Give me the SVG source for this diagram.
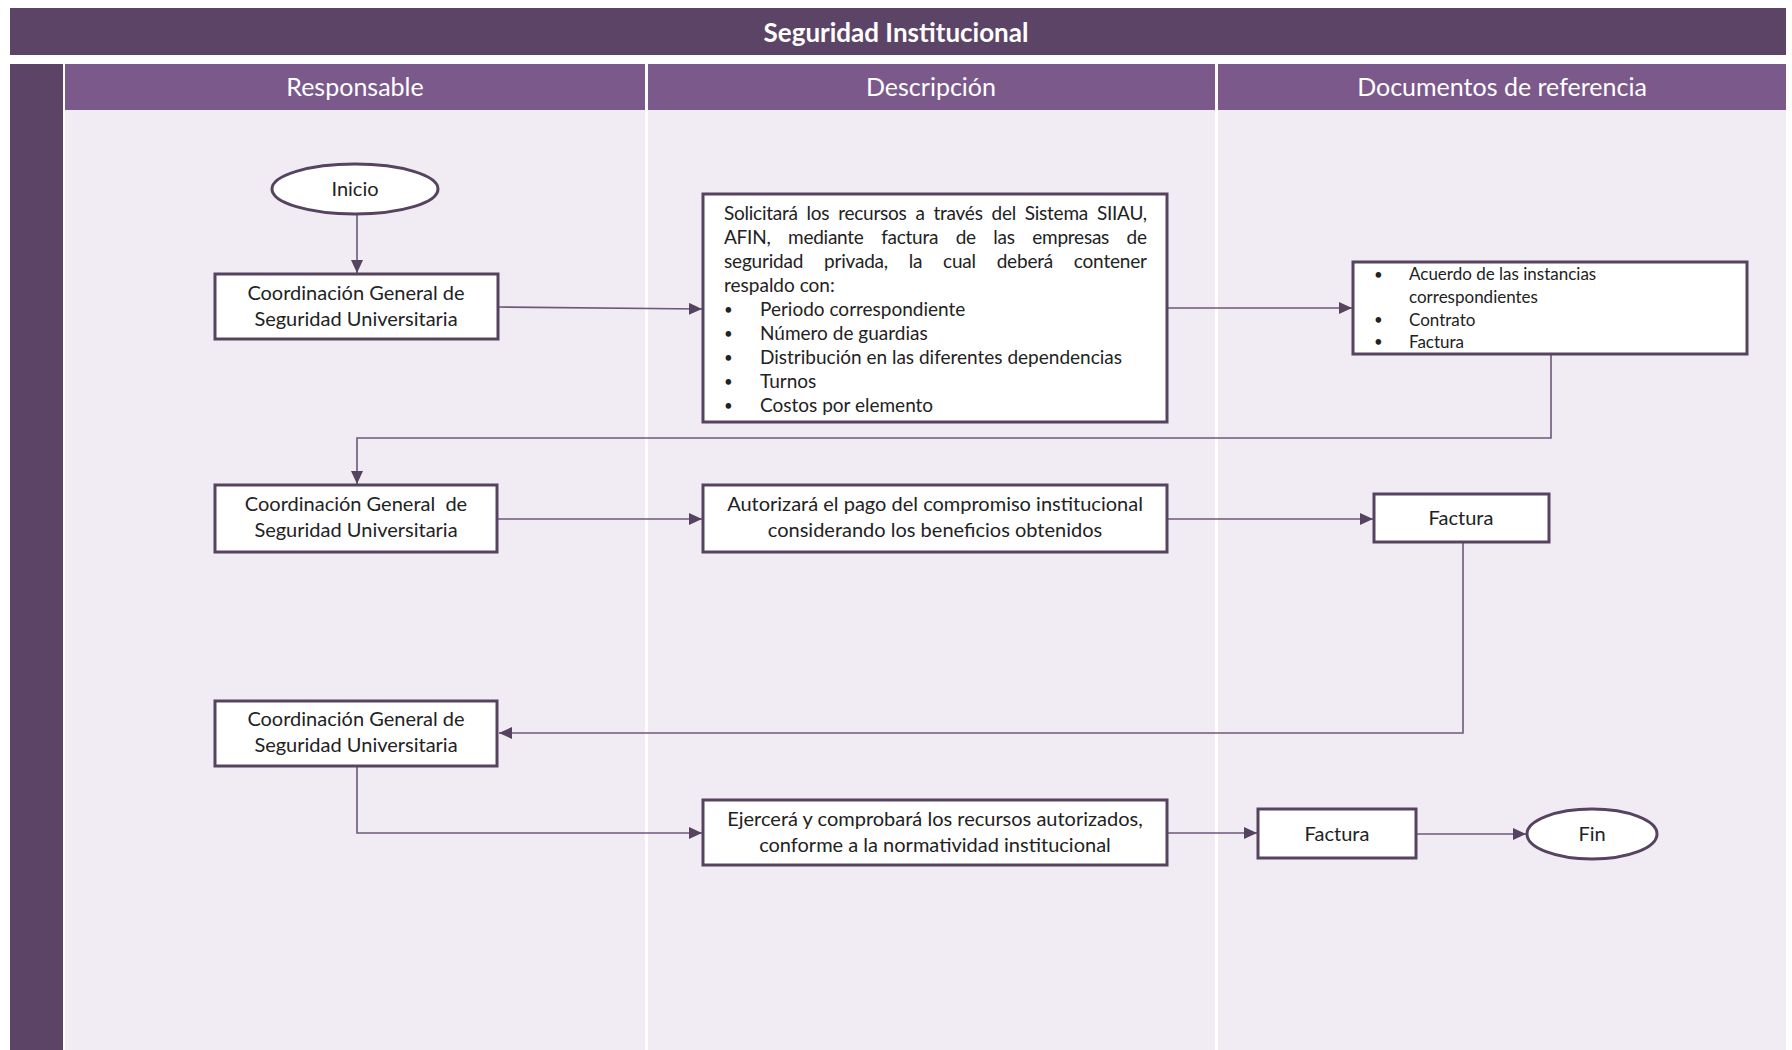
<svg xmlns="http://www.w3.org/2000/svg" width="1792" height="1050" viewBox="0 0 1792 1050">
<defs>
<style>
.bg{fill:#ffffff}
.title{fill:#5c4467}
.strip{fill:#5c4467}
.head{fill:#7b5a8b}
.body{fill:#f1ebf4}
.sep{stroke:#ffffff;stroke-width:3}
.box{fill:#ffffff;stroke:#56435f;stroke-width:3}
.line{fill:none;stroke:#6d587a;stroke-width:1.6}
.tt{font-family:Lato,"Open Sans","Liberation Sans",sans-serif;font-weight:bold;font-size:26px;fill:#ffffff;text-anchor:middle}
.ht{font-family:Lato,"Open Sans","Liberation Sans",sans-serif;font-size:25px;fill:#ffffff;text-anchor:middle}
.t{font-family:Lato,"Open Sans","Liberation Sans",sans-serif;font-size:20px;fill:#222222}
.d{font-size:19px}
.c{text-anchor:middle}
.s{font-size:17px}
.b{font-size:15px}
</style>
<marker id="arr" markerUnits="userSpaceOnUse" markerWidth="14" markerHeight="12" refX="13" refY="6" orient="auto">
<path d="M0,0 L13,6 L0,12 z" fill="#56435f"/>
</marker>
</defs>
<rect class="bg" x="0" y="0" width="1792" height="1050"/>
<rect class="title" x="10" y="8" width="1776" height="47"/>
<text class="tt" x="896" y="42">Seguridad Institucional</text>
<rect class="strip" x="10" y="64" width="53" height="986"/>
<rect class="body" x="65" y="110" width="1721" height="940"/>
<rect class="head" x="65" y="64" width="580" height="46"/>
<rect class="head" x="648" y="64" width="567" height="46"/>
<rect class="head" x="1218" y="64" width="568" height="46"/>
<line class="sep" x1="646.5" y1="110" x2="646.5" y2="1050"/>
<line class="sep" x1="1216.5" y1="110" x2="1216.5" y2="1050"/>
<text class="ht" x="355" y="96">Responsable</text>
<text class="ht" x="931" y="96">Descripción</text>
<text class="ht" x="1502" y="96">Documentos de referencia</text>

<g id="connectors">
<line class="line" x1="357" y1="214" x2="357" y2="273" marker-end="url(#arr)"/>
<line class="line" x1="498" y1="307" x2="702" y2="309" marker-end="url(#arr)"/>
<line class="line" x1="1167" y1="308" x2="1352" y2="308" marker-end="url(#arr)"/>
<polyline class="line" points="1551,354 1551,438 357,438 357,484" marker-end="url(#arr)"/>
<line class="line" x1="497" y1="519" x2="702" y2="519" marker-end="url(#arr)"/>
<line class="line" x1="1167" y1="519" x2="1373" y2="519" marker-end="url(#arr)"/>
<polyline class="line" points="1463,542 1463,733 499,733" marker-end="url(#arr)"/>
<polyline class="line" points="357,766 357,833 702,833" marker-end="url(#arr)"/>
<line class="line" x1="1167" y1="833" x2="1257" y2="833" marker-end="url(#arr)"/>
<line class="line" x1="1416" y1="834" x2="1526" y2="834" marker-end="url(#arr)"/>
</g>

<g id="inicio">
<ellipse class="box" cx="355" cy="189" rx="83" ry="25"/>
<text class="t c" x="355" y="196">Inicio</text>
</g>

<g id="resp1">
<rect class="box" x="215" y="274" width="283" height="65"/>
<text class="t c" x="356" y="300">Coordinación General de</text>
<text class="t c" x="356" y="326">Seguridad Universitaria</text>
</g>

<g id="desc1">
<rect class="box" x="703" y="194" width="464" height="228"/>
<text class="t d" x="724" y="220" word-spacing="4.3" textLength="423" lengthAdjust="spacing">Solicitará los recursos a través del Sistema SIIAU,</text>
<text class="t d" x="724" y="244" word-spacing="12.9" textLength="423" lengthAdjust="spacing">AFIN, mediante factura de las empresas de</text>
<text class="t d" x="724" y="268" word-spacing="16.1" textLength="423" lengthAdjust="spacing">seguridad privada, la cual deberá contener</text>
<text class="t d" x="724" y="292">respaldo con:</text>
<text class="t b" x="724" y="315">•</text><text class="t d" x="760" y="316">Periodo correspondiente</text>
<text class="t b" x="724" y="339">•</text><text class="t d" x="760" y="340">Número de guardias</text>
<text class="t b" x="724" y="363">•</text><text class="t d" x="760" y="364">Distribución en las diferentes dependencias</text>
<text class="t b" x="724" y="387">•</text><text class="t d" x="760" y="388">Turnos</text>
<text class="t b" x="724" y="411">•</text><text class="t d" x="760" y="412">Costos por elemento</text>
</g>

<g id="doc1">
<rect class="box" x="1353" y="262" width="394" height="92"/>
<text class="t b" x="1374" y="280">•</text><text class="t s" x="1409" y="280">Acuerdo de las instancias</text>
<text class="t s" x="1409" y="303">correspondientes</text>
<text class="t b" x="1374" y="325">•</text><text class="t s" x="1409" y="326">Contrato</text>
<text class="t b" x="1374" y="347">•</text><text class="t s" x="1409" y="348">Factura</text>
</g>

<g id="resp2">
<rect class="box" x="215" y="485" width="282" height="67"/>
<text class="t c" x="356" y="511" xml:space="preserve">Coordinación General  de</text>
<text class="t c" x="356" y="537">Seguridad Universitaria</text>
</g>

<g id="desc2">
<rect class="box" x="703" y="485" width="464" height="67"/>
<text class="t c" x="935" y="511">Autorizará el pago del compromiso institucional</text>
<text class="t c" x="935" y="537">considerando los beneficios obtenidos</text>
</g>

<g id="factura1">
<rect class="box" x="1374" y="494" width="175" height="48"/>
<text class="t c" x="1461" y="525">Factura</text>
</g>

<g id="resp3">
<rect class="box" x="215" y="701" width="282" height="65"/>
<text class="t c" x="356" y="726">Coordinación General de</text>
<text class="t c" x="356" y="752">Seguridad Universitaria</text>
</g>

<g id="desc3">
<rect class="box" x="703" y="800" width="464" height="65"/>
<text class="t c" x="935" y="826">Ejercerá y comprobará los recursos autorizados,</text>
<text class="t c" x="935" y="852">conforme a la normatividad institucional</text>
</g>

<g id="factura2">
<rect class="box" x="1258" y="809" width="158" height="49"/>
<text class="t c" x="1337" y="841">Factura</text>
</g>

<g id="fin">
<ellipse class="box" cx="1592" cy="834" rx="65" ry="25"/>
<text class="t c" x="1592" y="841">Fin</text>
</g>
</svg>
